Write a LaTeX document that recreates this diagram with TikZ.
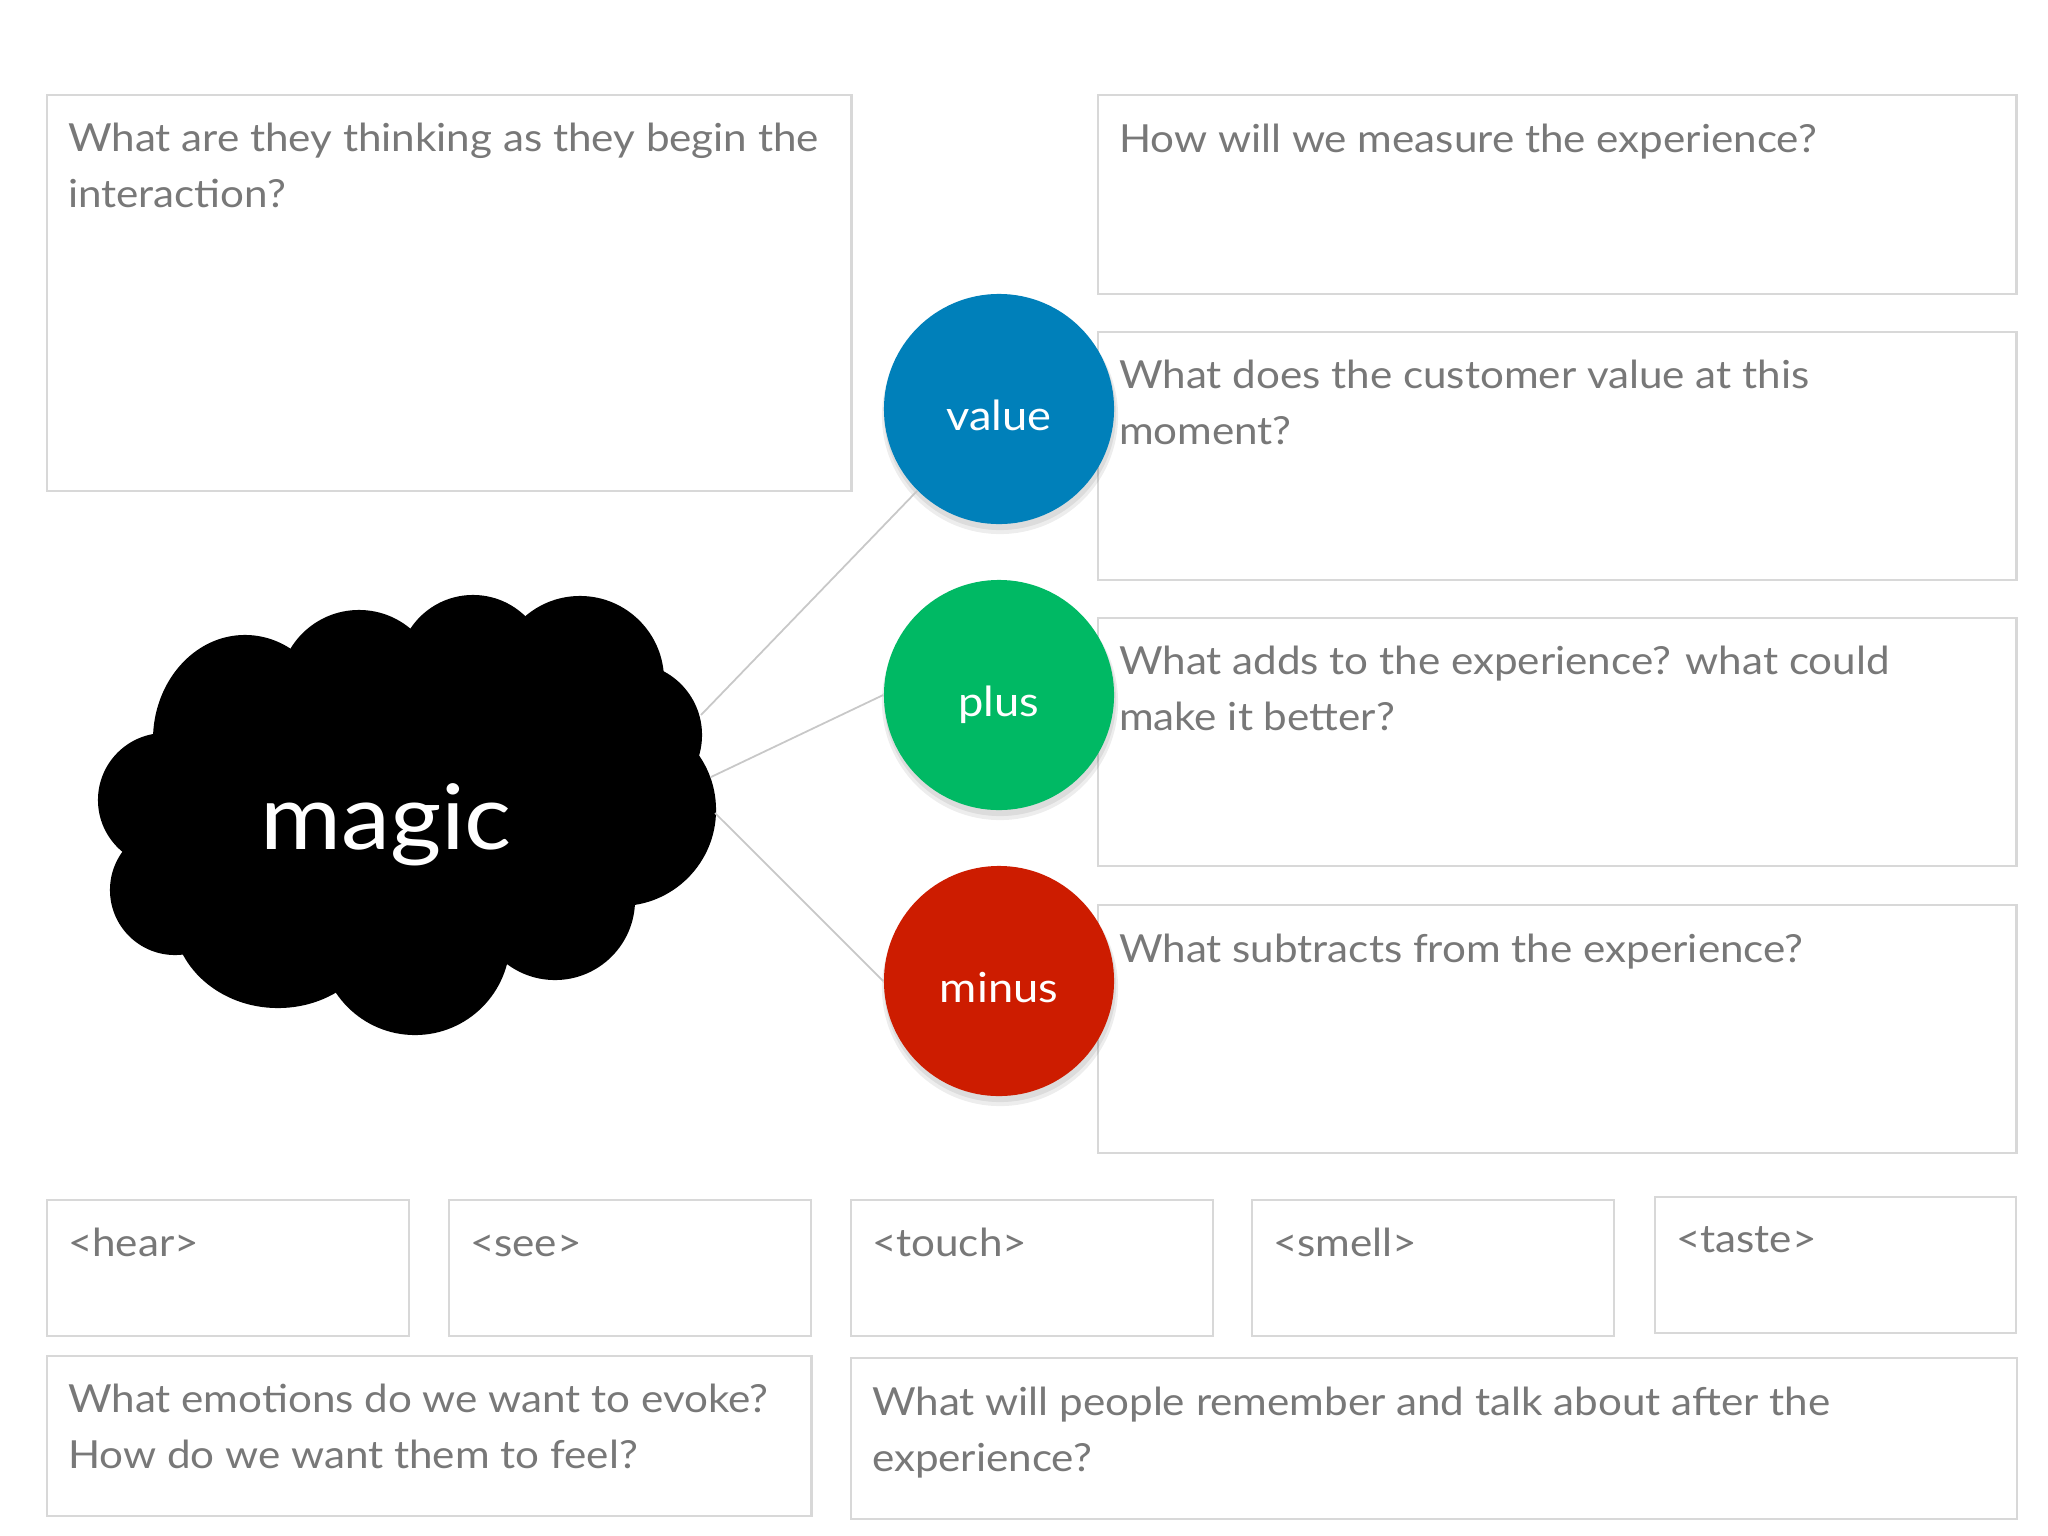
\documentclass[tikz,border=0pt]{standalone}
\usepackage{fontspec}
\setmainfont{Lato}[FakeStretch=1.09]
\usetikzlibrary{calc}
\definecolor{frameline}{RGB}{216,216,216}
\definecolor{qtext}{RGB}{120,120,120}
\definecolor{valueblue}{RGB}{0,128,186}
\definecolor{plusgreen}{RGB}{0,185,100}
\definecolor{minusred}{RGB}{205,28,0}
\definecolor{linkgray}{RGB}{200,200,200}
\tikzset{
  qframe/.style={draw=frameline, line width=0.6pt, fill=white, rectangle, anchor=north west, inner sep=0pt, outer sep=0pt},
  qtxt/.style={anchor=base west, inner sep=0pt, outer sep=0pt, align=left, text=qtext, font=\fontsize{11pt}{15.65pt}\selectfont},
  bubble/.style={circle, minimum size=2.3cm, inner sep=0pt, text=white, font=\fontsize{11.8pt}{14pt}\selectfont, text height=12.5pt, text depth=0pt},
  bshadow/.style={fill=black, opacity=0.07},
  link/.style={draw=linkgray, line width=0.5pt},
  cloudfill/.style={fill=black},
}
\begin{document}
\begin{tikzpicture}[x=0.01cm, y=-0.01cm]
\fill[white] (0,0) rectangle (2048,1536);
\useasboundingbox (0,0) rectangle (2048,1536);

% question frames
\node[qframe, minimum width=8.04cm, minimum height=3.96cm] (think) at (47,95) {};
\node[qframe, minimum width=9.18cm, minimum height=1.99cm] (measure) at (1098,95) {};
\node[qframe, minimum width=9.18cm, minimum height=2.48cm] (valueq) at (1098,332) {};
\node[qframe, minimum width=9.18cm, minimum height=2.48cm] (plusq) at (1098,618) {};
\node[qframe, minimum width=9.18cm, minimum height=2.48cm] (minusq) at (1098,905) {};
\node[qframe, minimum width=3.62cm, minimum height=1.36cm] (hear) at (47,1200) {};
\node[qframe, minimum width=3.62cm, minimum height=1.36cm] (see) at (449,1200) {};
\node[qframe, minimum width=3.62cm, minimum height=1.36cm] (touch) at (851,1200) {};
\node[qframe, minimum width=3.62cm, minimum height=1.36cm] (smell) at (1252,1200) {};
\node[qframe, minimum width=3.61cm, minimum height=1.36cm] (taste) at (1655,1197) {};
\node[qframe, minimum width=7.64cm, minimum height=1.60cm] (emotions) at (47,1356) {};
\node[qframe, minimum width=11.65cm, minimum height=1.61cm] (remember) at (851,1358) {};

% cloud
\fill[cloudfill] (245,740) ellipse [x radius=0.92cm, y radius=1.05cm];
\fill[cloudfill] (359,690) circle (0.80cm);
\fill[cloudfill] (473,670) circle (0.75cm);
\fill[cloudfill] (580,680) circle (0.84cm);
\fill[cloudfill] (630,735) circle (0.72cm);
\fill[cloudfill] (620,810) circle (0.96cm);
\fill[cloudfill] (555,900) circle (0.80cm);
\fill[cloudfill] (415,940) circle (0.95cm);
\fill[cloudfill] (278,915) ellipse [x radius=1.05cm, y radius=0.93cm];
\fill[cloudfill] (175,890) circle (0.65cm);
\fill[cloudfill] (165,800) circle (0.67cm);
\fill[cloudfill] (400,810) ellipse [x radius=2.5cm, y radius=1.5cm];
\node[anchor=base, inner sep=0pt, text=white, font=\fontsize{25.7pt}{30pt}\selectfont] (magic) at (386,849) {magic};

\coordinate (c1) at (701,715);
\coordinate (c2) at (711,777);
\coordinate (c3) at (715,813);

% circle shadows
\foreach \cy in {409,695,981}{
  \fill[bshadow] (1000,\cy+7) circle (1.18cm);
  \fill[bshadow] (1000,\cy+5) circle (1.16cm);
}

% circles
\node[bubble, fill=valueblue] (value) at (999,409) {value};
\node[bubble, fill=plusgreen] (plus) at (999,695) {plus};
\node[bubble, fill=minusred] (minus) at (999,981) {minus};

% connectors
\draw[link] (c1) -- (value.225);
\draw[link] (c2) -- (plus.west);
\draw[link] (c3) -- (minus.west);

% texts (two-line nodes: base anchor sits on the last line)
\node[qtxt] (thinkt) at ($(think.north west)+(21,112)$) {What are they thinking as they begin the\\interaction?};
\node[qtxt] (measuret) at ($(measure.north west)+(21,57)$) {How will we measure the experience?};
\node[qtxt] (valueqt) at ($(valueq.north west)+(21,112)$) {What does the customer value at this\\moment?};
\node[qtxt] (plusqt) at ($(plusq.north west)+(21,112)$) {What adds to the experience? what could\\make it better?};
\node[qtxt] (minusqt) at ($(minusq.north west)+(21,57)$) {What subtracts from the experience?};
\node[qtxt] (heart) at ($(hear.north west)+(21,56)$) {<hear>};
\node[qtxt] (seet) at ($(see.north west)+(21,56)$) {<see>};
\node[qtxt] (toucht) at ($(touch.north west)+(21,56)$) {<touch>};
\node[qtxt] (smellt) at ($(smell.north west)+(21,56)$) {<smell>};
\node[qtxt] (tastet) at ($(taste.north west)+(21,55)$) {<taste>};
\node[qtxt] (emotionst) at ($(emotions.north west)+(21,112)$) {What emotions do we want to evoke?\\How do we want them to feel?};
\node[qtxt] (remembert) at ($(remember.north west)+(21,113)$) {What will people remember and talk about after the\\experience?};
\end{tikzpicture}
\end{document}
